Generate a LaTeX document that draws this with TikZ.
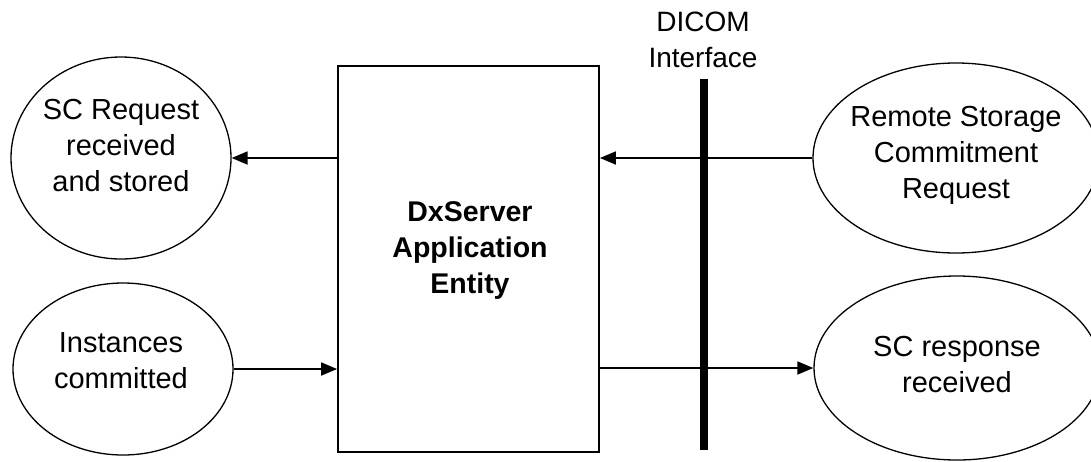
\documentclass[tikz,border=0pt]{standalone}
\usepackage{fontspec}
\setmainfont{Liberation Sans}
\usetikzlibrary{shapes.geometric,arrows.meta}
\tikzset{
  oval/.style={ellipse,draw,line width=1.3pt,inner sep=0pt},
  lbl/.style={align=center,inner sep=0pt,font=\fontsize{29}{36}\selectfont},
  arr/.style={line width=1.8pt,-{Triangle[length=16pt,width=13pt]}},
  bigbox/.style={draw,line width=1.8pt,inner sep=0pt}
}
\begin{document}
\begin{tikzpicture}[x=1pt,y=-1pt]
\useasboundingbox (0,0) rectangle (1091,461);
% ellipses
\node[oval,minimum width=220pt,minimum height=202pt] (e1) at (121,158) {};
\node[oval,minimum width=220pt,minimum height=172pt] (e2) at (123,369) {};
\node[oval,minimum width=286pt,minimum height=190pt] (e3) at (956,158) {};
\node[oval,minimum width=286pt,minimum height=184pt] (e4) at (957,368) {};
\node[lbl] (t1) at (121,146) {SC Request\\received\\and stored};
\node[lbl] (t2) at (121,361) {Instances\\committed};
\node[lbl] (t3) at (956,155) {Remote Storage\\Commitment\\Request};
\node[lbl] (t4) at (957,365) {SC response\\received};
% central box
\node[bigbox,minimum width=261pt,minimum height=386pt] (box) at (468.5,259) {};
\node[lbl,font=\fontsize{28.5}{36}\selectfont\bfseries] (tb) at (470,251) {DxServer\\Application\\Entity};
% DICOM interface
\node[lbl,font=\fontsize{28}{36}\selectfont] (ti) at (703,40) {DICOM\\Interface};
\coordinate (itop) at (704,79);
\coordinate (ibot) at (704,450);
\draw[line width=8pt] (itop) -- (ibot);
% arrows
\draw[arr] (box.west |- e1.east) -- (e1.east);
\draw[arr] (e2.east) -- (box.west |- e2.east);
\draw[arr] (e3.west) -- (box.east |- e3.west);
\draw[arr] (box.east |- e4.west) -- (e4.west);
\end{tikzpicture}
\end{document}
